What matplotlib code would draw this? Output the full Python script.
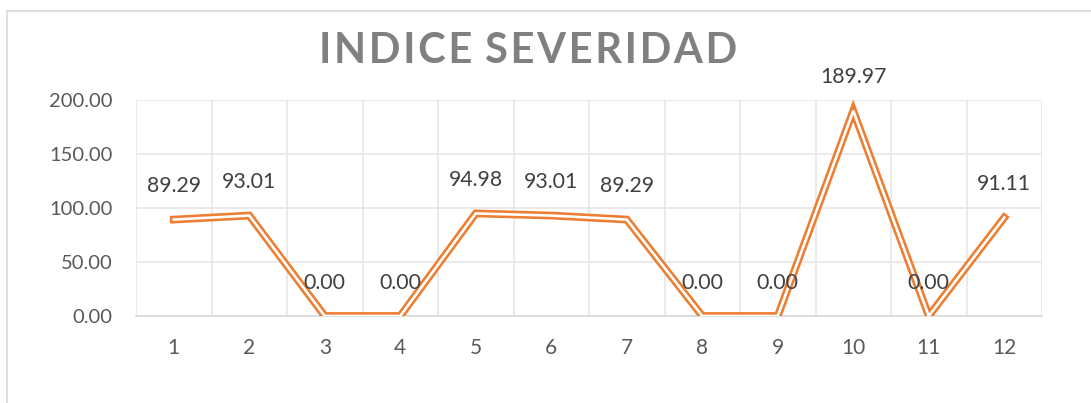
import matplotlib.pyplot as plt
from matplotlib.patches import Rectangle

meses = ['1', '2', '3', '4', '5', '6', '7', '8', '9', '10', '11', '12']
indice = [89.29, 93.01, 0.00, 0.00, 94.98, 93.01, 89.29, 0.00, 0.00, 189.97, 0.00, 91.11]
yticks = [0, 50, 100, 150, 200]
titulo = 'INDICE SEVERIDAD'

plt.rcParams['font.family'] = ['Lato', 'DejaVu Sans']

fig = plt.figure(figsize=(10.91, 4.03), dpi=100)
# chart frame (cropped on right and bottom)
fig.patches.append(Rectangle((7/1091, -0.1), 1.2, 1 - 11/403 + 0.1, transform=fig.transFigure,
                             fill=False, edgecolor='#D9D9D9', linewidth=1.2))

ax = fig.add_axes([136/1091, 1 - 316/403, (1042 - 136)/1091, (316 - 100)/403])
x = list(range(len(meses)))

# double line: thick orange then thin white on top
ax.plot(x, indice, color='#ED7D31', linewidth=5.6, solid_joinstyle='miter', zorder=3)
ax.plot(x, indice, color='white', linewidth=1.9, solid_joinstyle='miter', zorder=4)

for xi, v in zip(x, indice):
    ax.annotate('%.2f' % v, (xi, v), xytext=(0, 24), textcoords='offset points',
                ha='center', va='center', fontsize=15.3, color='#404040', zorder=5)

ax.set_xlim(-0.5, len(meses) - 0.5)
ax.set_ylim(0, 200)
ax.set_yticks(yticks)
ax.set_yticklabels(['%.2f' % t for t in yticks])
ax.set_xticks(x)
ax.set_xticklabels(meses)
ax.set_xticks([i - 0.5 for i in range(len(meses) + 1)], minor=True)

ax.grid(axis='y', which='major', color='#E6E6E6', linewidth=1.2)
ax.grid(axis='x', which='minor', color='#E6E6E6', linewidth=1.2)
ax.set_axisbelow(True)
for s in ['top', 'right', 'left']:
    ax.spines[s].set_visible(False)
ax.spines['bottom'].set_color('#D9D9D9')
ax.spines['bottom'].set_linewidth(1.2)
ax.tick_params(which='both', length=0)
ax.tick_params(axis='y', pad=17, labelsize=14.5, labelcolor='#595959')
ax.tick_params(axis='x', pad=16, labelsize=15, labelcolor='#595959')

# spaced-out title
spaced = '\u200a'.join(titulo).replace('\u200a \u200a', ' \u200a')
fig.text(528/1091, 1 - 51/403, spaced, ha='center', va='center',
         fontsize=30, fontweight='bold', color='#808080')

fig.savefig('out.png', dpi=100)
